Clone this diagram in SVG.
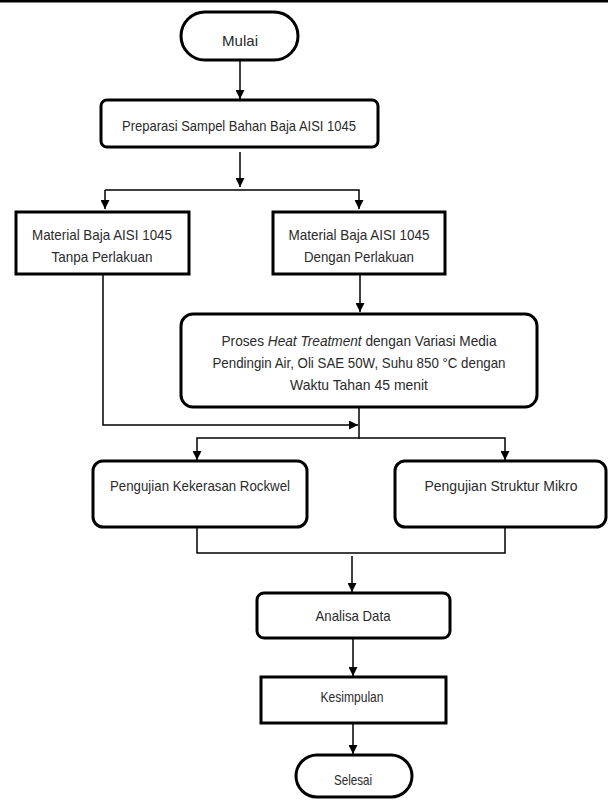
<svg xmlns="http://www.w3.org/2000/svg" width="608" height="800" viewBox="0 0 608 800">
<defs>
<style>
.box{fill:#fff;stroke:#000;stroke-width:3}
.t{font-family:"Liberation Sans",Arial,sans-serif;font-size:15px;fill:#2a2a2a;text-anchor:middle}
.c{fill:none;stroke:#000;stroke-width:1.5}
</style>
<marker id="ah" viewBox="0 0 10 10" refX="10" refY="5" markerWidth="10" markerHeight="9" markerUnits="userSpaceOnUse" orient="auto">
<path d="M0,0 L10,5 L0,10 z" fill="#000"/>
</marker>
</defs>
<rect x="0" y="0" width="608" height="2.5" fill="#000"/>
<g id="connectors">
<line class="c" x1="240" y1="60" x2="240" y2="99" marker-end="url(#ah)"/>
<line class="c" x1="240" y1="152" x2="240" y2="187" marker-end="url(#ah)"/>
<polyline class="c" points="105,190 359,190 359,209" marker-end="url(#ah)"/>
<line class="c" x1="105" y1="190" x2="105" y2="209" marker-end="url(#ah)"/>
<line class="c" x1="360" y1="274" x2="360" y2="312" marker-end="url(#ah)"/>
<polyline class="c" points="103,274 103,425 358,425" marker-end="url(#ah)"/>
<polyline class="c" points="359,407 359,438 197,438 197,460" marker-end="url(#ah)"/>
<polyline class="c" points="359,438 505,438 505,460" marker-end="url(#ah)"/>
<polyline class="c" points="197,527 197,553 505,553 505,527"/>
<line class="c" x1="352" y1="556" x2="352" y2="592" marker-end="url(#ah)"/>
<line class="c" x1="353" y1="638" x2="353" y2="676" marker-end="url(#ah)"/>
<line class="c" x1="353" y1="723" x2="353" y2="754" marker-end="url(#ah)"/>
</g>
<g id="mulai">
<rect class="box" x="181" y="12" width="117" height="48" rx="24"/>
<text class="t" x="240" y="46" textLength="36" lengthAdjust="spacingAndGlyphs">Mulai</text>
</g>
<g id="preparasi">
<rect class="box" x="101" y="100" width="277" height="47" rx="6"/>
<text class="t" x="239" y="131" textLength="234" lengthAdjust="spacingAndGlyphs">Preparasi Sampel Bahan Baja AISI 1045</text>
</g>
<g id="tanpa">
<rect class="box" x="16" y="212" width="173" height="62"/>
<text class="t" x="102" y="240" textLength="140" lengthAdjust="spacingAndGlyphs">Material Baja AISI 1045</text>
<text class="t" x="102" y="262" textLength="101" lengthAdjust="spacingAndGlyphs">Tanpa Perlakuan</text>
</g>
<g id="dengan">
<rect class="box" x="273" y="212" width="172" height="62"/>
<text class="t" x="359" y="240" textLength="141" lengthAdjust="spacingAndGlyphs">Material Baja AISI 1045</text>
<text class="t" x="359" y="262" textLength="110" lengthAdjust="spacingAndGlyphs">Dengan Perlakuan</text>
</g>
<g id="heat">
<rect class="box" x="181" y="314" width="356" height="93" rx="12"/>
<text class="t" x="359" y="346" textLength="275" lengthAdjust="spacingAndGlyphs">Proses <tspan font-style="italic">Heat Treatment</tspan> dengan Variasi Media</text>
<text class="t" x="359" y="368" textLength="293" lengthAdjust="spacingAndGlyphs">Pendingin Air, Oli SAE 50W, Suhu 850 °C dengan</text>
<text class="t" x="359" y="390" textLength="138" lengthAdjust="spacingAndGlyphs">Waktu Tahan 45 menit</text>
</g>
<g id="rockwel">
<rect class="box" x="93" y="461" width="214" height="66" rx="10"/>
<text class="t" x="200" y="491" textLength="180" lengthAdjust="spacingAndGlyphs">Pengujian Kekerasan Rockwel</text>
</g>
<g id="mikro">
<rect class="box" x="395" y="461" width="211" height="66" rx="10"/>
<text class="t" x="501" y="491" textLength="153" lengthAdjust="spacingAndGlyphs">Pengujian Struktur Mikro</text>
</g>
<g id="analisa">
<rect class="box" x="257" y="593" width="193" height="45" rx="7"/>
<text class="t" x="353" y="621" textLength="75" lengthAdjust="spacingAndGlyphs">Analisa Data</text>
</g>
<g id="kesimpulan">
<rect class="box" x="261" y="677" width="185" height="46"/>
<text class="t" x="352" y="702" textLength="63" lengthAdjust="spacingAndGlyphs">Kesimpulan</text>
</g>
<g id="selesai">
<rect class="box" x="296" y="755" width="116" height="42" rx="21"/>
<text class="t" x="353" y="785" textLength="38" lengthAdjust="spacingAndGlyphs">Selesai</text>
</g>
</svg>
